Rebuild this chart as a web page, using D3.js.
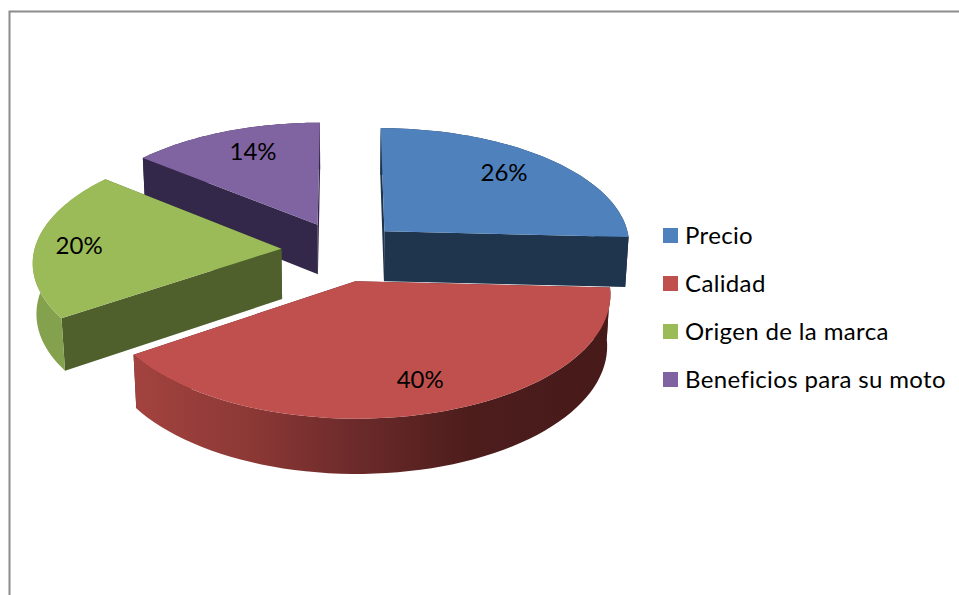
<!DOCTYPE html>
<html><head><meta charset="utf-8">
<script src="https://cdn.jsdelivr.net/npm/d3@7"></script>
<style>html,body{margin:0;padding:0;background:#fff}svg{display:block}text{font-family:Lato,"Open Sans",sans-serif;fill:#000}</style>
</head><body><svg id="c" width="959" height="595"></svg>
<script>
const categories = ["Precio","Calidad","Origen de la marca","Beneficios para su moto"];
const values = [25.8,39.7,20.4,14.1];
const topColors = ["#4F81BD","#C0504D","#9BBB59","#8064A2"];
const wallColors = ["#1F344D","#4A1C1B","#4F602C","#33284A"];
const outerColors = ["#1F344D","url(#redWall)","#84A24E","#33284A"];

// layout of the projected disc (radius = 1 in plane units)
const P = {x0:343,y0:250,B:247,A:117,k:0.1,H:51,m:0.012};
const explode = [0.235,0.27,0.25,0.245];
const explodeShiftX = [0,-0.024,0,0];
const labelOffset = [[7,-8],[1,-10],[-6,1],[-5,-14]];
const labelR = [0.68,0.84,0.8,0.62];

const svg = d3.select("#c");
const W=959,H=595;
svg.append("path").attr("d",`M9.5 ${H}V11.5H${W}`).attr("fill","none").attr("stroke","#8c8c8c").attr("stroke-width",2);

const defs = svg.append("defs");
const g = defs.append("linearGradient").attr("id","redWall").attr("gradientUnits","userSpaceOnUse")
  .attr("x1",135).attr("x2",610).attr("y1",0).attr("y2",0);
[[0,"#A3433F"],[0.25,"#8B3835"],[0.45,"#6E2B2B"],[0.7,"#4D1D1C"],[1,"#461A19"]]
  .forEach(s=>g.append("stop").attr("offset",s[0]).attr("stop-color",s[1]));

function project(u,v,z){
  const w = 1/(1 - P.k*v + P.m*z);
  return [P.x0 + P.B*u*w, P.y0 + P.A*v*w + P.H*z*w];
}
const pie = d3.pie().sort(null).value(d=>d);
const arcs = pie(values);
const line = d3.line();

function sl(i){
  const a = arcs[i], mid=(a.startAngle+a.endAngle)/2, e=explode[i];
  const ox=e*Math.sin(mid)+explodeShiftX[i], oy=-e*Math.cos(mid);
  const pt=(r,t,z)=>project(ox+r*Math.sin(t), oy-r*Math.cos(t), z);
  const ts=d3.range(0,61).map(j=>a.startAngle+(a.endAngle-a.startAngle)*j/60);
  return {a,mid,pt,ts};
}
const order=[3,0,2,1];
order.forEach(i=>{
  const s=sl(i), G=svg.append("g");
  const wall=(t)=>line([s.pt(0,t,0),s.pt(1,t,0),s.pt(1,t,1),s.pt(0,t,1)])+"Z";
  G.append("path").attr("d",wall(s.a.startAngle)).attr("fill",wallColors[i]);
  G.append("path").attr("d",wall(s.a.endAngle)).attr("fill",wallColors[i]);
  const outer=line(s.ts.map(t=>s.pt(1,t,0)).concat(s.ts.slice().reverse().map(t=>s.pt(1,t,1))))+"Z";
  G.append("path").attr("d",outer).attr("fill",outerColors[i]);
  const top=line([s.pt(0,0,0)].concat(s.ts.map(t=>s.pt(1,t,0))))+"Z";
  G.append("path").attr("d",top).attr("fill",topColors[i]);
});

arcs.forEach((a,i)=>{
  const s=sl(i), p=s.pt(labelR[i],s.mid,0);
  svg.append("text").attr("x",p[0]+labelOffset[i][0]).attr("y",p[1]+labelOffset[i][1]).attr("dy","0.35em").attr("text-anchor","middle")
    .attr("font-size",24).text(d3.format(".0f")(values[i])+"%");
});

const ly=d3.scalePoint().domain(categories).range([235.5,379.5]);
categories.forEach((c,i)=>{
  svg.append("rect").attr("x",663).attr("y",ly(c)-7.5).attr("width",15).attr("height",15).attr("fill",topColors[i]);
  svg.append("text").attr("x",685).attr("y",ly(c)).attr("dy","0.35em").attr("font-size",24).attr("letter-spacing",0.36).text(c);
});
</script></body></html>
